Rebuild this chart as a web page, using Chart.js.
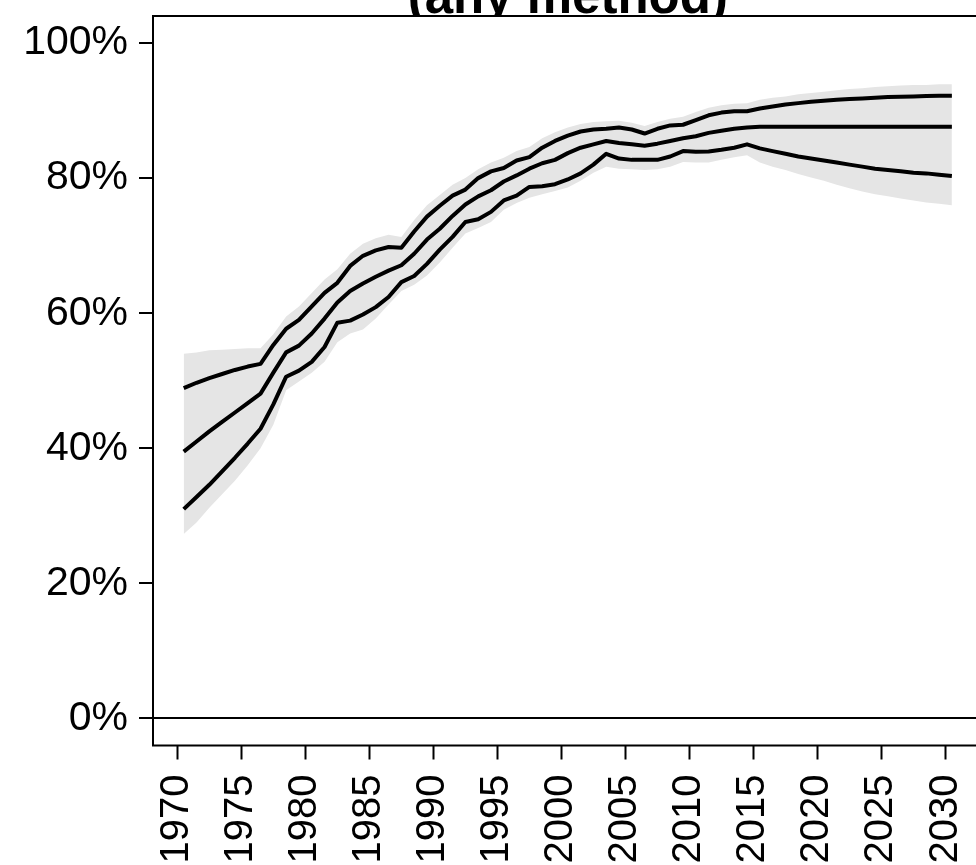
<!DOCTYPE html>
<html lang="en">
<head>
    <meta charset="UTF-8">
    <title>(any method)</title>
    <script src="https://cdn.jsdelivr.net/npm/chart.js"></script>
    <style>
        html, body { margin: 0; padding: 0; overflow: hidden; background: #fff; }
        #chart { display: block; }
    </style>
</head>
<body>
    <canvas id="chart" width="1000" height="865" style="width:1000px;height:865px"></canvas>
    <script>
        // mid-year estimates 1970.5 ... 2030.5
        const years = [];
        for (let y = 1970; y <= 2030; y++) years.push(y + 0.5);

        const median = [39.5, 41.0, 42.5, 43.9, 45.3, 46.7, 48.1, 51.2, 54.2, 55.2,
            57.0, 59.2, 61.6, 63.3, 64.4, 65.4, 66.3, 67.1, 68.8, 70.9,
            72.5, 74.4, 76.1, 77.3, 78.2, 79.5, 80.4, 81.4, 82.2, 82.7,
            83.7, 84.5, 85.0, 85.5, 85.2, 85.0, 84.8, 85.1, 85.5, 85.9,
            86.2, 86.7, 87.0, 87.3, 87.5, 87.6, 87.6, 87.6, 87.6, 87.6,
            87.6, 87.6, 87.6, 87.6, 87.6, 87.6, 87.6, 87.6, 87.6, 87.6, 87.6];

        const upper80 = [48.9, 49.7, 50.4, 51.0, 51.6, 52.1, 52.5, 55.3, 57.7, 59.0,
            61.0, 63.0, 64.5, 67.0, 68.5, 69.3, 69.8, 69.7, 72.1, 74.3,
            75.9, 77.4, 78.3, 80.0, 81.0, 81.5, 82.6, 83.1, 84.5, 85.5,
            86.3, 86.9, 87.2, 87.3, 87.5, 87.2, 86.6, 87.3, 87.8, 87.9,
            88.6, 89.3, 89.7, 89.9, 89.9, 90.3, 90.6, 90.9, 91.1, 91.3,
            91.45, 91.6, 91.7, 91.8, 91.9, 92.0, 92.05, 92.1, 92.15, 92.2, 92.2];

        const lower80 = [31.0, 32.8, 34.6, 36.6, 38.6, 40.7, 42.9, 46.5, 50.6, 51.5,
            52.8, 55.0, 58.6, 58.9, 59.8, 60.9, 62.4, 64.6, 65.5, 67.3,
            69.4, 71.3, 73.5, 73.9, 75.0, 76.7, 77.4, 78.7, 78.8, 79.1,
            79.8, 80.7, 82.0, 83.6, 82.9, 82.7, 82.7, 82.7, 83.2, 84.0,
            83.9, 83.95, 84.2, 84.5, 85.0, 84.4, 84.0, 83.6, 83.2, 82.9,
            82.6, 82.3, 82.0, 81.7, 81.4, 81.2, 81.0, 80.8, 80.7, 80.5, 80.3];

        const upper95 = [54.0, 54.2, 54.5, 54.6, 54.7, 54.8, 54.8, 56.9, 59.5, 61.0,
            63.0, 65.0, 66.5, 68.8, 70.3, 71.1, 71.6, 71.3, 73.8, 76.0,
            77.5, 79.0, 80.0, 81.3, 82.3, 83.0, 84.0, 84.6, 85.9, 86.8,
            87.5, 88.0, 88.3, 88.4, 88.5, 88.2, 87.7, 88.3, 88.8, 89.1,
            89.8, 90.4, 90.8, 91.0, 91.1, 91.6, 91.9, 92.1, 92.4, 92.6,
            92.8, 93.0, 93.2, 93.3, 93.5, 93.6, 93.7, 93.8, 93.8, 93.9, 93.9];

        const lower95 = [27.3, 29.0, 31.2, 33.2, 35.2, 37.5, 40.0, 43.5, 48.6, 49.9,
            51.2, 52.8, 55.7, 57.0, 57.6, 59.2, 61.3, 63.3, 64.2, 65.6,
            67.5, 69.7, 71.8, 72.6, 73.5, 75.3, 76.3, 77.1, 77.6, 78.1,
            78.6, 79.6, 80.8, 81.7, 81.4, 81.3, 81.2, 81.3, 81.7, 82.4,
            82.3, 82.3, 82.7, 83.1, 83.4, 82.3, 81.7, 81.2, 80.6, 80.1,
            79.6, 79.0, 78.5, 78.0, 77.6, 77.3, 77.0, 76.7, 76.4, 76.2, 76.0];

        const xTicks = [1970, 1975, 1980, 1985, 1990, 1995, 2000, 2005, 2010, 2015, 2020, 2025, 2030];
        const yTicks = [0, 20, 40, 60, 80, 100];
        const titleText = "(any method)";

        const pts = arr => arr.map((v, i) => ({ x: years[i], y: v }));

        const lineStyle = {
            borderColor: '#000',
            borderWidth: 4,
            borderJoinStyle: 'round',
            pointRadius: 0,
            fill: false,
            tension: 0
        };

        // plot frame + title (cut off by the top of the page and the frame)
        const framePlugin = {
            id: 'frame',
            afterDraw(chart) {
                const { ctx, chartArea: a } = chart;
                ctx.save();
                ctx.beginPath();
                ctx.rect(0, 0, chart.width, a.top - 1);
                ctx.clip();
                ctx.fillStyle = '#000';
                ctx.font = 'bold 51px "Liberation Sans", Arial, sans-serif';
                ctx.textAlign = 'center';
                ctx.textBaseline = 'alphabetic';
                ctx.fillText(titleText, (a.left + a.right) / 2, 13);
                ctx.restore();

                ctx.save();
                ctx.strokeStyle = '#000';
                ctx.lineWidth = 2;
                ctx.strokeRect(a.left, a.top, a.right - a.left, a.bottom - a.top);
                ctx.restore();
            }
        };

        new Chart(document.getElementById('chart'), {
            type: 'line',
            data: {
                datasets: [
                    Object.assign({ label: 'upper 80%', data: pts(upper80) }, lineStyle),
                    Object.assign({ label: 'median', data: pts(median) }, lineStyle),
                    Object.assign({ label: 'lower 80%', data: pts(lower80) }, lineStyle),
                    {
                        label: 'upper 95%',
                        data: pts(upper95),
                        borderWidth: 0,
                        pointRadius: 0,
                        backgroundColor: '#e5e5e5',
                        fill: '+1'
                    },
                    {
                        label: 'lower 95%',
                        data: pts(lower95),
                        borderWidth: 0,
                        pointRadius: 0,
                        fill: false
                    }
                ]
            },
            options: {
                responsive: false,
                animation: false,
                devicePixelRatio: 1,
                layout: { padding: { top: 16, right: 17.4, left: 0, bottom: 0 } },
                plugins: {
                    legend: { display: false },
                    title: { display: false },
                    tooltip: { enabled: false }
                },
                scales: {
                    x: {
                        type: 'linear',
                        min: 1968.1,
                        max: 2032.9,
                        afterBuildTicks: s => { s.ticks = xTicks.map(v => ({ value: v })); },
                        afterFit: s => {
                            s.height = 119.5;
                            s.paddingLeft = 0;
                            s.paddingRight = 0;
                        },
                        border: { display: false },
                        grid: {
                            drawOnChartArea: false,
                            tickLength: 14,
                            tickWidth: 2,
                            tickColor: '#000'
                        },
                        ticks: {
                            autoSkip: false,
                            minRotation: 90,
                            maxRotation: 90,
                            padding: 15,
                            color: '#000',
                            font: { family: '"Liberation Sans", Arial, sans-serif', size: 40 },
                            callback: v => String(v)
                        }
                    },
                    y: {
                        min: -4,
                        max: 104,
                        afterBuildTicks: s => { s.ticks = yTicks.map(v => ({ value: v })); },
                        afterFit: s => {
                            s.width = 153;
                            s.paddingTop = 0;
                            s.paddingBottom = 0;
                        },
                        border: { display: false },
                        grid: {
                            drawOnChartArea: true,
                            color: c => (c.tick && c.tick.value === 0 ? '#000' : 'rgba(0,0,0,0)'),
                            lineWidth: 2,
                            tickLength: 14,
                            tickWidth: 2,
                            tickColor: '#000'
                        },
                        ticks: {
                            padding: 11,
                            color: '#000',
                            font: { family: '"Liberation Sans", Arial, sans-serif', size: 41 },
                            callback: v => v + '%'
                        }
                    }
                }
            },
            plugins: [framePlugin]
        });
    </script>
</body>
</html>
